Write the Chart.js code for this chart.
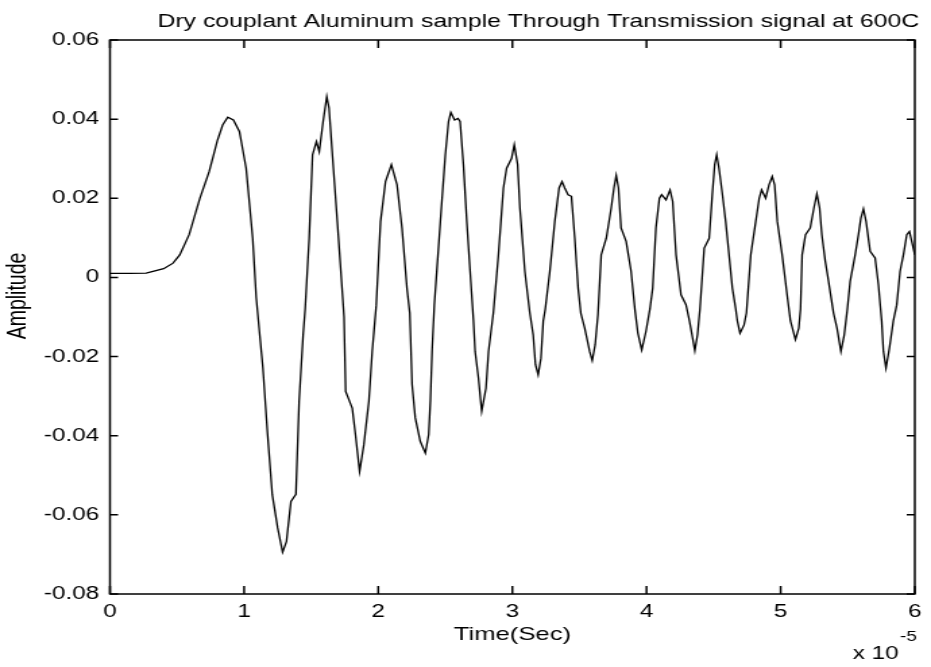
<!DOCTYPE html>
<html>
<head>
<meta charset="utf-8">
<script src="https://cdn.jsdelivr.net/npm/chart.js@4.4.1/dist/chart.umd.min.js"></script>
<style>
html,body{margin:0;padding:0;background:#fff;overflow:hidden}
#c{display:block;width:931px;height:667px}
</style>
</head>
<body>
<canvas id="c" width="690" height="667" style="width:931px;height:667px"></canvas>
<script>
// ---- texts ----
const chartTitle = 'Dry couplant Aluminum sample Through Transmission signal at 600C';
const xAxisLabel = 'Time(Sec)';
const yAxisLabel = 'Amplitude';
const xExponentBase = 'x 10';
const xExponent = '-5';

// ---- tick labels ----
const xTickValues = [0, 1, 2, 3, 4, 5, 6];            // time, units of 1e-5 s
const yTickValues = [-0.08, -0.06, -0.04, -0.02, 0, 0.02, 0.04, 0.06];

// ---- series (time in units of 1e-5 s) ----
const timeE5 = [
  0.00, 0.15, 0.27, 0.40, 0.47, 0.52, 0.59, 0.67, 0.74, 0.80, 0.84, 0.878,
  0.92, 0.965, 1.015, 1.064, 1.09, 1.14, 1.175, 1.21, 1.25, 1.287, 1.316,
  1.349, 1.386, 1.41, 1.44, 1.455, 1.485, 1.51, 1.539, 1.56, 1.589,
  1.616, 1.633, 1.658, 1.695, 1.73, 1.745, 1.757, 1.806, 1.83, 1.861,
  1.893, 1.93, 1.955, 1.985, 2.017, 2.054, 2.098, 2.14, 2.177, 2.214,
  2.235, 2.252, 2.276, 2.313, 2.351, 2.376, 2.389, 2.401, 2.418, 2.463,
  2.50, 2.524, 2.541, 2.569, 2.594, 2.61, 2.635, 2.66, 2.685, 2.71,
  2.722, 2.747, 2.771, 2.803, 2.822, 2.858, 2.896, 2.933, 2.957, 2.994,
  3.014, 3.039, 3.056, 3.093, 3.13, 3.155, 3.172, 3.192, 3.213, 3.23,
  3.245, 3.279, 3.316, 3.348, 3.37, 3.39, 3.415, 3.44, 3.465, 3.49,
  3.51, 3.539, 3.576, 3.595, 3.617, 3.638, 3.662, 3.70, 3.737, 3.757,
  3.774, 3.791, 3.81, 3.848, 3.885, 3.913, 3.935, 3.964, 3.996, 4.025,
  4.046, 4.07, 4.096, 4.113, 4.145, 4.175, 4.195, 4.22, 4.257, 4.294,
  4.32, 4.33, 4.36, 4.38, 4.398, 4.43, 4.467, 4.49, 4.508, 4.523,
  4.54, 4.566, 4.59, 4.615, 4.64, 4.665, 4.677, 4.697, 4.727, 4.745,
  4.777, 4.814, 4.84, 4.858, 4.888, 4.913, 4.937, 4.955, 4.975, 5.011,
  5.048, 5.073, 5.11, 5.135, 5.148, 5.16, 5.185, 5.22, 5.248, 5.27,
  5.29, 5.307, 5.332, 5.357, 5.394, 5.42, 5.449, 5.474, 5.497, 5.518,
  5.555, 5.58, 5.598, 5.617, 5.637, 5.667, 5.704, 5.729, 5.753, 5.766,
  5.785, 5.81, 5.84, 5.865, 5.89, 5.915, 5.94, 5.96, 5.977, 6.00
];
const amplitude = [
  0.0010, 0.0010, 0.0011, 0.0022, 0.0036, 0.0057, 0.0108, 0.0200, 0.0268, 0.0345, 0.0385, 0.0405,
  0.0398, 0.0369, 0.0276, 0.0099, -0.0050, -0.0229, -0.0397, -0.0549, -0.0633, -0.0694, -0.0667,
  -0.0566, -0.0548, -0.0313, -0.0145, -0.0080, 0.0099, 0.0310, 0.0343, 0.0318, 0.0394,
  0.0457, 0.0428, 0.0310, 0.0141, -0.0027, -0.0100, -0.0288, -0.0330, -0.0397, -0.0490,
  -0.0422, -0.0313, -0.0187, -0.0070, 0.0141, 0.0242, 0.0285, 0.0234, 0.0125, -0.0027,
  -0.0090, -0.0270, -0.0355, -0.0414, -0.0444, -0.0397, -0.0310, -0.0187, -0.0070, 0.0141,
  0.0310, 0.0394, 0.0417, 0.0398, 0.0402, 0.0394, 0.0285, 0.0141, 0.0015, -0.0110,
  -0.0187, -0.0254, -0.0338, -0.0280, -0.0187, -0.0090, 0.0057, 0.0226, 0.0276, 0.0301,
  0.0335, 0.0285, 0.0176, 0.0015, -0.0090, -0.0145, -0.0220, -0.0246, -0.0204, -0.0110,
  -0.0080, 0.0015, 0.0141, 0.0226, 0.0242, 0.0226, 0.0209, 0.0205, 0.0099, -0.0027,
  -0.0090, -0.0128, -0.0187, -0.0210, -0.0170, -0.0094, 0.0057, 0.0099, 0.0176, 0.0226,
  0.0258, 0.0226, 0.0125, 0.0091, 0.0015, -0.0080, -0.0140, -0.0183, -0.0136, -0.0080,
  -0.0027, 0.0125, 0.0200, 0.0209, 0.0196, 0.0221, 0.0192, 0.0057, -0.0044, -0.0069,
  -0.0110, -0.0128, -0.0185, -0.0145, -0.0080, 0.0074, 0.0099, 0.0209, 0.0285, 0.0310,
  0.0276, 0.0209, 0.0141, 0.0057, -0.0027, -0.0080, -0.0110, -0.0141, -0.0120, -0.0090,
  0.0057, 0.0141, 0.0200, 0.0221, 0.0200, 0.0234, 0.0255, 0.0234, 0.0141, 0.0057,
  -0.0044, -0.0110, -0.0157, -0.0128, -0.0080, 0.0057, 0.0108, 0.0125, 0.0176, 0.0211,
  0.0176, 0.0108, 0.0042, -0.0010, -0.0090, -0.0128, -0.0187, -0.0145, -0.0080, -0.0010,
  0.0057, 0.0108, 0.0150, 0.0173, 0.0141, 0.0066, 0.0049, -0.0019, -0.0110, -0.0187,
  -0.0229, -0.0180, -0.0110, -0.0070, 0.0015, 0.0057, 0.0108, 0.0116, 0.0091, 0.0057
];

const FONT = 'Liberation Sans, Arial, Helvetica, sans-serif';
const points = timeE5.map((t, i) => ({ x: t, y: amplitude[i] }));

const framePlugin = {
  id: 'matlabFrame',
  afterDraw(chart) {
    const ctx = chart.ctx;
    const { left, right, top, bottom } = chart.chartArea;
    const xs = chart.scales.x, ys = chart.scales.y;
    ctx.save();
    ctx.strokeStyle = '#000';
    ctx.lineWidth = 1.5;
    ctx.strokeRect(left, top, right - left, bottom - top);
    ctx.beginPath();
    xs.ticks.forEach(t => {
      const p = xs.getPixelForValue(t.value);
      ctx.moveTo(p, bottom); ctx.lineTo(p, bottom - 8);
      ctx.moveTo(p, top); ctx.lineTo(p, top + 8);
    });
    ys.ticks.forEach(t => {
      const p = ys.getPixelForValue(t.value);
      ctx.moveTo(left, p); ctx.lineTo(left + 6, p);
      ctx.moveTo(right, p); ctx.lineTo(right - 6, p);
    });
    ctx.stroke();

    ctx.fillStyle = '#000';
    // title
    ctx.textAlign = 'center';
    ctx.textBaseline = 'middle';
    ctx.font = '18.4px ' + FONT;
    ctx.fillText(chartTitle, 399, 22);
    // x label
    ctx.font = '19px ' + FONT;
    ctx.fillText(xAxisLabel, (left + right) / 2, 635);
    // y label
    ctx.save();
    ctx.translate(14, 296);
    ctx.rotate(-Math.PI / 2);
    ctx.font = '19.5px ' + FONT;
    ctx.fillText(yAxisLabel, 0, 0);
    ctx.restore();
    // axis multiplier
    ctx.textAlign = 'left';
    ctx.textBaseline = 'alphabetic';
    ctx.font = '18px ' + FONT;
    ctx.fillText(xExponentBase, right - 46, 659);
    ctx.font = '14px ' + FONT;
    ctx.fillText(xExponent, right - 11, 641);
    ctx.restore();
  }
};

new Chart(document.getElementById('c'), {
  type: 'line',
  data: {
    datasets: [{
      data: points,
      borderColor: '#000',
      borderWidth: 1.3,
      pointRadius: 0,
      tension: 0,
      fill: false
    }]
  },
  options: {
    responsive: false,
    animation: false,
    devicePixelRatio: 1,
    layout: { padding: { left: 0, right: 9.5, top: 40, bottom: 0 } },
    plugins: {
      legend: { display: false },
      tooltip: { enabled: false },
      title: { display: false }
    },
    scales: {
      x: {
        type: 'linear',
        min: 0, max: 6,
        afterBuildTicks: s => { s.ticks = xTickValues.map(v => ({ value: v })); },
        afterFit: s => { s.height = 73; },
        grid: { display: false, drawTicks: false },
        border: { display: false },
        ticks: {
          color: '#000', padding: 7, maxRotation: 0, autoSkip: false,
          font: { family: FONT, size: 18 },
          callback: v => String(v)
        },
        title: { display: false }
      },
      y: {
        type: 'linear',
        min: -0.08, max: 0.06,
        afterBuildTicks: s => { s.ticks = yTickValues.map(v => ({ value: v })); },
        afterFit: s => { s.width = 81.5; },
        grid: { display: false, drawTicks: false },
        border: { display: false },
        ticks: {
          color: '#000', padding: 8, autoSkip: false,
          font: { family: FONT, size: 18 },
          callback: v => (Math.abs(v) < 1e-9 ? '0' : v.toFixed(2))
        },
        title: { display: false }
      }
    }
  },
  plugins: [framePlugin]
});
</script>
</body>
</html>
